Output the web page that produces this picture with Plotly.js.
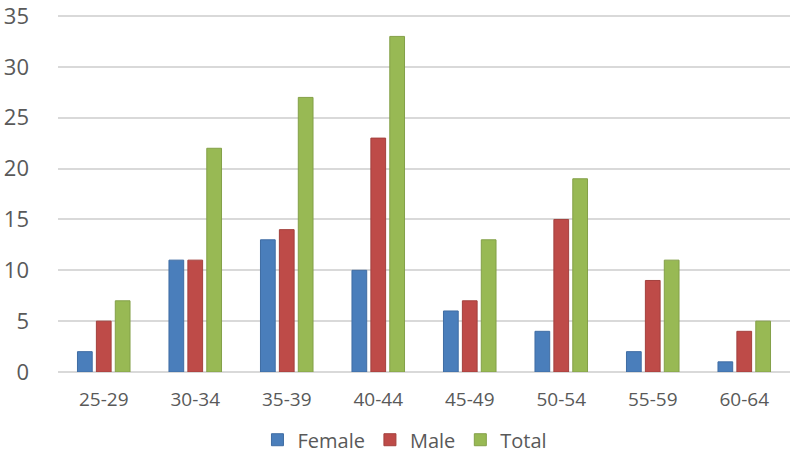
<!DOCTYPE html>
<html><head><meta charset="utf-8">
<script src="https://cdn.plot.ly/plotly-3.0.1.min.js"></script>
<style>html,body{margin:0;padding:0;background:#fff}#chart{width:800px;height:459px}</style>
</head><body><div id="chart"></div>
<script>
const categories = ["25-29","30-34","35-39","40-44","45-49","50-54","55-59","60-64"];
const female = [2,11,13,10,6,4,2,1];
const male = [5,11,14,23,7,15,9,4];
const total = [7,22,27,33,13,19,11,5];
const yTicks = [0,5,10,15,20,25,30,35];

const colors = {Female:"#4a7ebb", Male:"#be4b48", Total:"#98b954"};
const borders = {Female:"#3f6ca3", Male:"#a3403d", Total:"#84a048"};
function tr(name, vals){
  return {type:"bar", name:name, x:categories, y:vals,
    marker:{color:colors[name], line:{color:borders[name], width:1}}};
}
const data = [tr("Female",female), tr("Male",male), tr("Total",total)];
const layout = {
  width:800, height:459,
  margin:{l:58, r:10, t:12, b:87, autoexpand:false},
  paper_bgcolor:"#fff", plot_bgcolor:"#fff",
  font:{family:"Open Sans", color:"#595959"},
  barmode:"group", bargap:0.38, bargroupgap:0.22,
  xaxis:{tickfont:{size:19, color:"#595959"}, ticks:"", showgrid:false,
    showline:false, ticklabelstandoff:14, automargin:false},
  yaxis:{range:[0,35.4], tickvals:yTicks, tickfont:{size:22, color:"#595959"},
    gridcolor:"#d9d9d9", gridwidth:2, zeroline:true, zerolinecolor:"#d9d9d9", zerolinewidth:2,
    showline:false, ticks:"", ticklabelstandoff:28, automargin:false, ticklabeloverflow:"allow"},
  showlegend:true,
  legend:{orientation:"h", x:0.474, xanchor:"center", xref:"paper", y:0.042, yanchor:"middle", yref:"container",
    font:{size:20, color:"#595959"}, itemwidth:30, traceorder:"normal"}
};
Plotly.newPlot("chart", data, layout, {displayModeBar:false, staticPlot:true});
</script></body></html>
